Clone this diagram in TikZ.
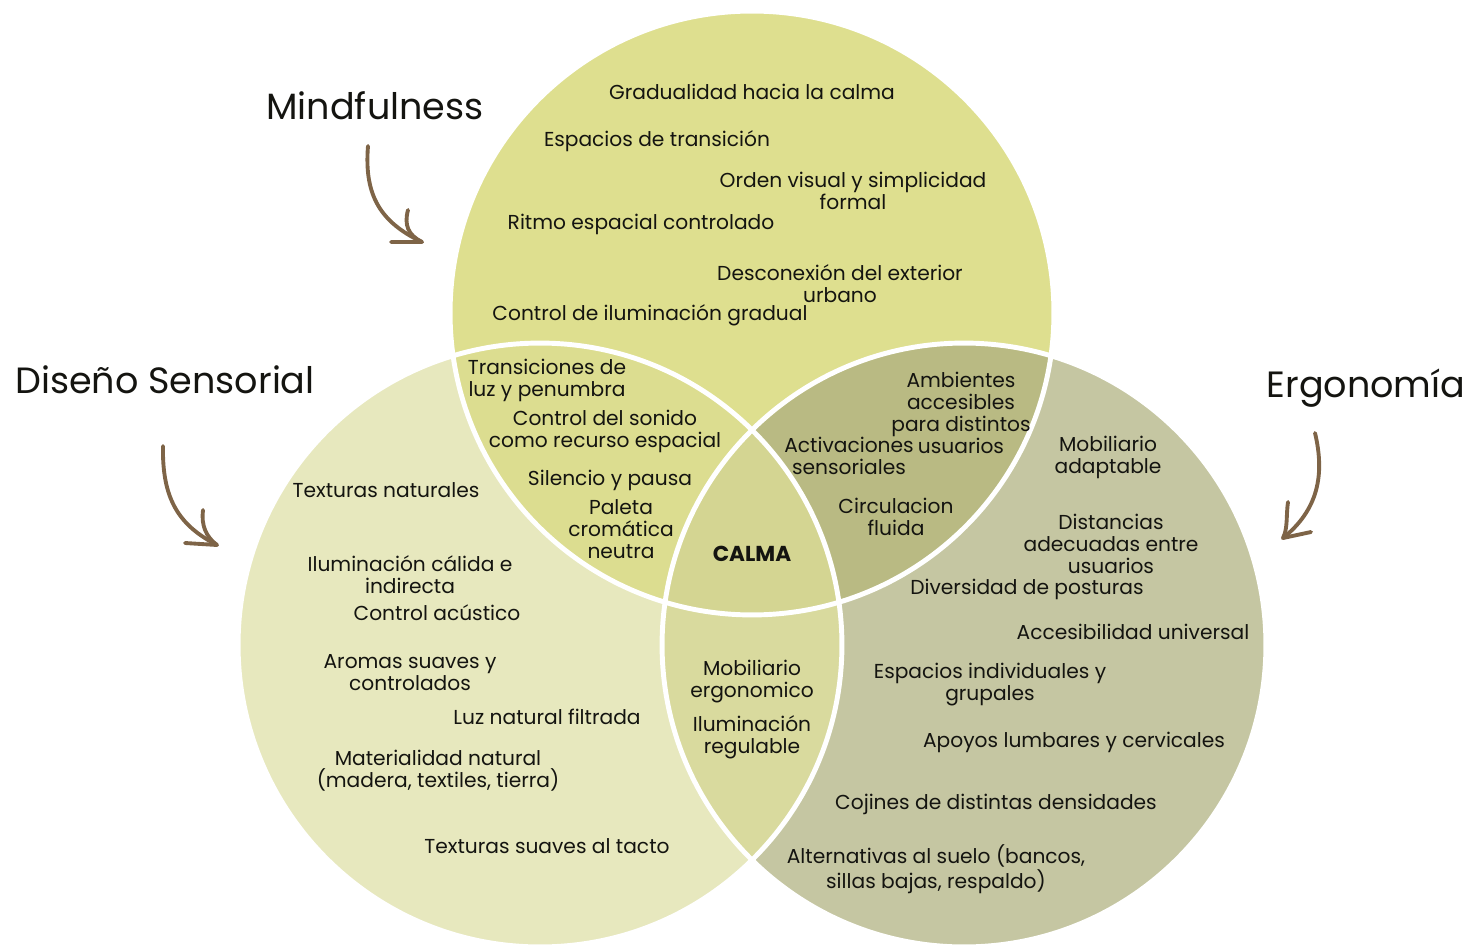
\documentclass[tikz,border=0pt]{standalone}
\usepackage{fontspec}
\setmainfont{Poppins}
\definecolor{cTop}{HTML}{DEDF8F}
\definecolor{cLeft}{HTML}{E7E8BE}
\definecolor{cRight}{HTML}{C5C6A2}
\definecolor{cTL}{HTML}{DCDD90}
\definecolor{cTR}{HTML}{B9BA83}
\definecolor{cLR}{HTML}{D9DA9E}
\definecolor{cMid}{HTML}{D4D592}
\definecolor{arrowbrown}{HTML}{7E6447}
\definecolor{ink}{HTML}{141410}
\begin{document}
\begin{tikzpicture}[x=0.02cm,y=-0.02cm,
  item/.style={font=\fontsize{11.5}{12.5}\selectfont, align=center, inner sep=0pt, text=ink},
  heading/.style={font=\fontsize{20.8}{24}\selectfont, inner sep=0pt, text=ink},
  ring/.style={draw=white, line width=2.8pt},
  hand/.style={draw=arrowbrown, line width=2.2pt, line cap=round, line join=round}]
\useasboundingbox (0,0) rectangle (1467,946);

% circle centres
\coordinate (cT) at (752,313);
\coordinate (cL) at (540,645);
\coordinate (cR) at (964,645);
\def\rad{6.04cm}

% base discs
\fill[cLeft]  (cL) circle[radius=\rad];
\fill[cRight] (cR) circle[radius=\rad];
\fill[cTop]   (cT) circle[radius=\rad];
% pairwise overlaps
\begin{scope}\clip (cT) circle[radius=\rad]; \fill[cTL] (cL) circle[radius=\rad];\end{scope}
\begin{scope}\clip (cT) circle[radius=\rad]; \fill[cTR] (cR) circle[radius=\rad];\end{scope}
\begin{scope}\clip (cL) circle[radius=\rad]; \fill[cLR] (cR) circle[radius=\rad];\end{scope}
% triple overlap
\begin{scope}\clip (cT) circle[radius=\rad]; \clip (cL) circle[radius=\rad];
  \fill[cMid] (cR) circle[radius=\rad];\end{scope}
% white separating rings
\draw[ring] (cT) circle[radius=\rad];
\draw[ring] (cL) circle[radius=\rad];
\draw[ring] (cR) circle[radius=\rad];

% headings
\node[heading] (hM) at (375,106) {Mindfulness};
\node[heading] (hD) at (165,380) {Diseño Sensorial};
\node[heading] (hE) at (1366,388) {Ergonomía};

% hand-drawn arrows
\coordinate (a1s) at (368,146); \coordinate (a1t) at (422,242);
\draw[hand] (a1s) .. controls (364,195) and (380,222) .. (a1t);
\draw[hand] (408,210) .. controls (404,225) and (408,235) .. (a1t) -- (391,242);
\coordinate (a2s) at (163,446); \coordinate (a2t) at (217,545);
\draw[hand] (a2s) .. controls (162,498) and (178,525) .. (a2t);
\draw[hand] (203,510) .. controls (201,525) and (206,537) .. (a2t) -- (185,543);
\coordinate (a3s) at (1315,433); \coordinate (a3t) at (1283,538);
\draw[hand] (a3s) .. controls (1325,475) and (1318,510) .. (a3t);
\draw[hand] (1288,502) .. controls (1286,515) and (1288,528) .. (a3t) -- (1311,532);

% Mindfulness
\node[item] (m1) at (752,92)  {Gradualidad hacia la calma};
\node[item] (m2) at (657,141) {Espacios de transición};
\node[item] (m3) at (853,191) {Orden visual y simplicidad\\formal};
\node[item] (m4) at (641,224) {Ritmo espacial controlado};
\node[item] (m5) at (840,284) {Desconexión del exterior\\urbano};
\node[item] (m6) at (650,315) {Control de iluminación gradual};

% Mindfulness and sensorial design
\node[item] (ml1) at (547,380) {Transiciones de\\luz y penumbra};
\node[item] (ml2) at (605,431) {Control del sonido\\como recurso espacial};
\node[item] (ml3) at (610,480) {Silencio y pausa};
\node[item] (ml4) at (621,529) {Paleta\\cromática\\neutra};

% centre
\node[item, font=\fontsize{12.3}{13}\selectfont\bfseries] (calma) at (752,554) {CALMA};

% Mindfulness and ergonomics
\node[item] (mr1) at (961,413) {Ambientes\\accesibles\\para distintos\\usuarios};
\node[item] (mr2) at (849,456) {Activaciones\\sensoriales};
\node[item] (mr3) at (896,517) {Circulacion\\fluida};

% sensorial design and ergonomics
\node[item] (lr1) at (752,682) {Mobiliario\\ergonomico};
\node[item] (lr2) at (752,737) {Iluminación\\regulable};

% sensorial design
\node[item] (l1) at (386,490) {Texturas naturales};
\node[item] (l2) at (410,575) {Iluminación cálida e\\indirecta};
\node[item] (l3) at (437,613) {Control acústico};
\node[item] (l4) at (410,673) {Aromas suaves y\\controlados};
\node[item] (l5) at (547,717) {Luz natural filtrada};
\node[item] (l6) at (438,771) {Materialidad natural\\(madera, textiles, tierra)};
\node[item] (l7) at (547,846) {Texturas suaves al tacto};

% ergonomics
\node[item] (r1) at (1108,457) {Mobiliario\\adaptable};
\node[item] (r2) at (1111,544) {Distancias\\adecuadas entre\\usuarios};
\node[item] (r3) at (1027,589) {Diversidad de posturas};
\node[item] (r4) at (1133,632) {Accesibilidad universal};
\node[item] (r5) at (990,685) {Espacios individuales y\\grupales};
\node[item] (r6) at (1074,742) {Apoyos lumbares y cervicales};
\node[item] (r7) at (996,804) {Cojines de distintas densidades};
\node[item] (r8) at (936,869) {Alternativas al suelo (bancos,\\sillas bajas, respaldo)};
\end{tikzpicture}
\end{document}
